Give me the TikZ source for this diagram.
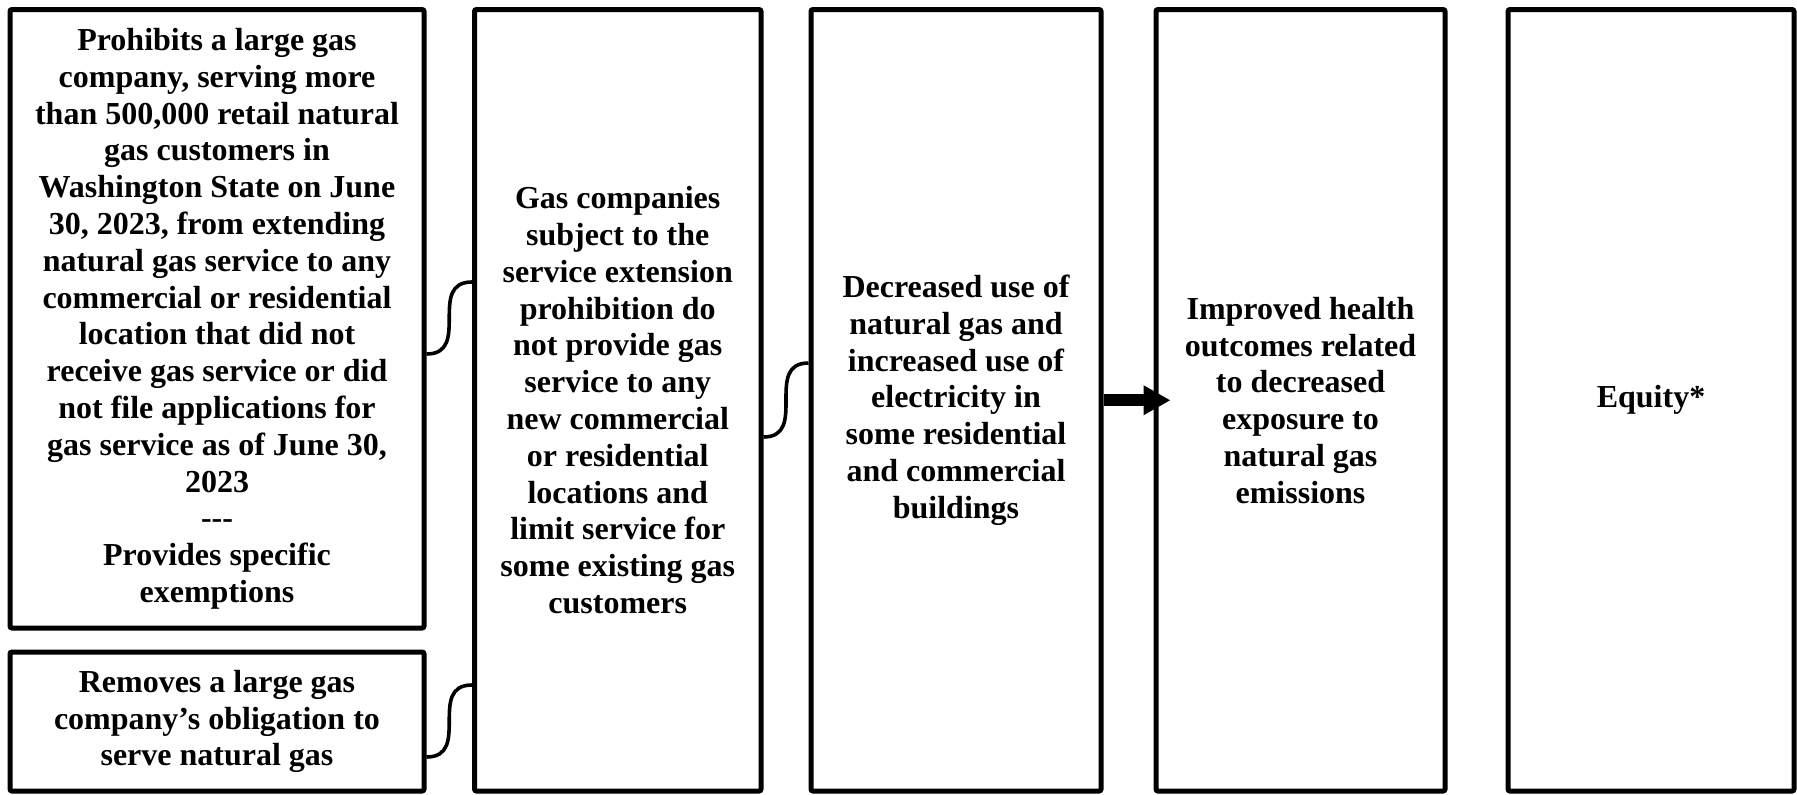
\documentclass[tikz,border=0pt]{standalone}
\usepackage{fontspec}
\setmainfont{Liberation Serif}
\usetikzlibrary{arrows.meta}
\begin{document}
\begin{tikzpicture}[x=0.5pt,y=-0.5pt,
  box/.style={draw, line width=2.5pt, rounded corners=1pt, inner sep=0pt, align=center,
    font=\bfseries\fontsize{16pt}{18.4pt}\selectfont},
  conn/.style={line width=1.8pt},
  arr/.style={line width=5.8pt, -{Triangle[length=13.5pt,width=14pt]}}]
\useasboundingbox (0,0) rectangle (1797,794);
\node[box, minimum width=207pt, minimum height=309.25pt] (b1) at (217,318.75)
  {Prohibits a large gas\\company, serving more\\than 500,000 retail natural\\gas customers in\\Washington State on June\\30, 2023, from extending\\natural gas service to any\\commercial or residential\\location that did not\\receive gas service or did\\not file applications for\\gas service as of June 30,\\2023\\-\kern0pt-\kern0pt-\\Provides specific\\exemptions};
\node[box, minimum width=207pt, minimum height=69.5pt] (b2) at (217,721.5)
  {Removes a large gas\\company’s obligation to\\serve natural gas};
\node[box, minimum width=143.25pt, minimum height=390.75pt] (b3) at (617.75,400.25)
  {Gas companies\\subject to the\\service extension\\prohibition do\\not provide gas\\service to any\\new commercial\\or residential\\locations and\\limit service for\\some existing gas\\customers};
\node[box, minimum width=145pt, minimum height=390.75pt] (b4) at (956,400.25)
  {Decreased use of\\natural gas and\\increased use of\\electricity in\\some residential\\and commercial\\buildings};
\node[box, minimum width=144.5pt, minimum height=390.75pt] (b5) at (1300.5,400.25)
  {Improved health\\outcomes related\\to decreased\\exposure to\\natural gas\\emissions};
\node[box, minimum width=143pt, minimum height=390.75pt] (b6) at (1651,400.25)
  {Equity*};
\draw[conn] (b1.east |- 0,354) .. controls +(45,0) and +(-45,0) .. (b3.west |- 0,282);
\draw[conn] (b2.east |- 0,757) .. controls +(45,0) and +(-45,0) .. (b3.west |- 0,685);
\draw[conn] (b3.east |- 0,437) .. controls +(45,0) and +(-45,0) .. (b4.west |- 0,363);
\draw[arr] (b4.east) -- ([xshift=8.5pt]b5.west);
\end{tikzpicture}
\end{document}
